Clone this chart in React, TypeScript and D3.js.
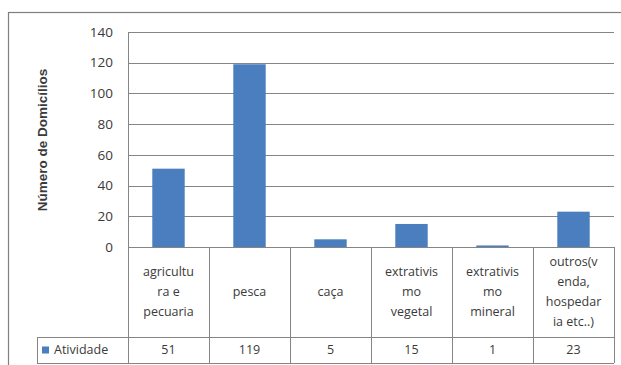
import React from "react";
import * as d3 from "d3";

// Activity categories (wrapped as in the data table) and household counts
const categories = ["agricultura e pecuaria", "pesca", "caça", "extrativismo vegetal", "extrativismo mineral", "outros(venda, hospedaria etc..)"];
const categoryLines = [
  ["agricultu", "ra e", "pecuaria"],
  ["pesca"],
  ["caça"],
  ["extrativis", "mo", "vegetal"],
  ["extrativis", "mo", "mineral"],
  ["outros(v", "enda,", "hospedar", "ia etc..)"],
];
const values = [51, 119, 5, 15, 1, 23];
const seriesName = "Atividade";
const yTicks = [0, 20, 40, 60, 80, 100, 120, 140];
const yTitle = "Número de Domicílios";

const W = 621;
const H = 365;
const plot = { left: 128, right: 614, top: 32, bottom: 247 };
const tableCatBottom = 337;
const tableBottom = 363;
const tableLeft = 37;

const BAR = "#4A7EBF";
const GRID = "#858585";
const TEXT = "#3A3A3A";
const FONT = "'Open Sans', 'Liberation Sans', sans-serif";

export default function App() {
  const x = d3.scaleBand<string>().domain(categories).range([plot.left, plot.right]).padding(0);
  const y = d3.scaleLinear().domain([0, 140]).range([plot.bottom, plot.top]);
  const bw = x.bandwidth();
  const barW = bw * 0.4;
  const lineH = 20;
  const catMid = (plot.bottom + tableCatBottom) / 2;
  const valMid = (tableCatBottom + tableBottom) / 2;

  return (
    <svg
      width={W}
      height={H}
      style={{ position: "absolute", left: 0, top: 0, background: "#fff" }}
    >
      {/* chart frame */}
      <rect x={8.5} y={12.5} width={W + 10} height={H + 10} fill="none" stroke="#7f7f7f" strokeWidth={1.2} />

      {/* horizontal gridlines */}
      {yTicks.map((t) => (
        <line key={t} x1={plot.left} x2={plot.right} y1={Math.round(y(t)) + 0.5} y2={Math.round(y(t)) + 0.5} stroke={GRID} strokeWidth={1} />
      ))}
      {/* left axis line */}
      <line x1={plot.left + 0.5} x2={plot.left + 0.5} y1={plot.top} y2={plot.bottom} stroke={GRID} />

      {/* tick labels */}
      {yTicks.map((t) => (
        <text key={t} x={plot.left - 15} y={y(t)} dy="0.35em" textAnchor="end" fontSize={13.5} fill={TEXT} fontFamily={FONT}>
          {t}
        </text>
      ))}

      {/* axis title */}
      <text
        transform={`translate(47,140) rotate(-90)`}
        textAnchor="middle"
        fontSize={13.5}
        fontWeight="bold"
        fill={TEXT}
        fontFamily="'Liberation Sans', Arial, sans-serif"
      >
        {yTitle}
      </text>

      {/* bars */}
      {categories.map((c, i) => (
        <rect
          key={c}
          x={(x(c) as number) + (bw - barW) / 2}
          y={y(values[i])}
          width={barW}
          height={y(0) - y(values[i])}
          fill={BAR}
        />
      ))}

      {/* data table: category row */}
      {categories.map((c, i) => {
        const lines = categoryLines[i];
        const cx = (x(c) as number) + bw / 2;
        const start = catMid - ((lines.length - 1) * lineH) / 2;
        return (
          <g key={c}>
            {lines.map((ln, j) => (
              <text key={j} x={cx} y={start + j * lineH} dy="0.35em" textAnchor="middle" fontSize={12.5} fill={TEXT} fontFamily={FONT}>
                {ln}
              </text>
            ))}
            <text x={cx} y={valMid} dy="0.35em" textAnchor="middle" fontSize={12.5} fill={TEXT} fontFamily={FONT}>
              {values[i]}
            </text>
          </g>
        );
      })}

      {/* table grid lines */}
      {d3.range(categories.length + 1).map((k) => {
        const xx = Math.round(plot.left + k * bw) + 0.5;
        return <line key={k} x1={xx} x2={xx} y1={plot.bottom} y2={tableBottom} stroke={GRID} />;
      })}
      <line x1={plot.left} x2={plot.right} y1={plot.bottom + 0.5} y2={plot.bottom + 0.5} stroke={GRID} />
      <line x1={tableLeft} x2={plot.right} y1={tableCatBottom + 0.5} y2={tableCatBottom + 0.5} stroke={GRID} />
      <line x1={tableLeft} x2={plot.right} y1={tableBottom + 0.5} y2={tableBottom + 0.5} stroke={GRID} />
      <line x1={tableLeft + 0.5} x2={tableLeft + 0.5} y1={tableCatBottom} y2={tableBottom} stroke={GRID} />

      {/* legend key in table */}
      <rect x={42} y={valMid - 3.5} width={7} height={7} fill={BAR} />
      <text x={54} y={valMid} dy="0.35em" fontSize={12.5} fill={TEXT} fontFamily={FONT}>
        {seriesName}
      </text>
    </svg>
  );
}
